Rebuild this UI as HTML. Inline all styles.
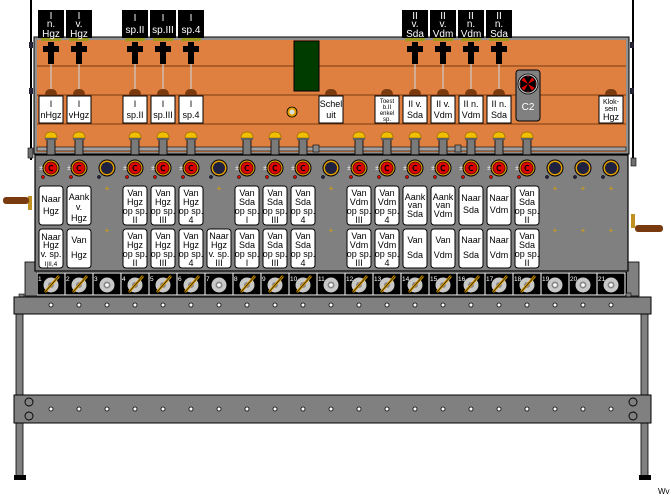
<!DOCTYPE html>
<html><head><meta charset="utf-8"><style>
html,body{margin:0;padding:0;background:#fff;width:671px;height:499px;overflow:hidden}
svg{display:block}
text{font-family:"Liberation Sans","DejaVu Sans",sans-serif}
.c{font-size:9px;text-anchor:middle;fill:#000}
.t{font-size:10px;text-anchor:middle;fill:#fff}
.n{font-size:6.5px;fill:#fff}
</style></head><body>
<svg width="671" height="499" viewBox="0 0 671 499" xmlns="http://www.w3.org/2000/svg">
<defs>
<g id="lamp"><rect x="-4" y="136" width="8" height="20" fill="#7a7a7a" stroke="#000" stroke-width="0.8"/><path d="M-6,138 Q-6,132 0,132 Q6,132 6,138 Z" fill="#f0c000" stroke="#a07000" stroke-width="0.8"/><rect x="-6" y="138" width="12" height="2" fill="#606060"/></g>
<g id="red"><circle cx="0" cy="168" r="8" fill="#e0a000" stroke="#000" stroke-width="1"/><circle cx="0" cy="168" r="6" fill="#e00000" stroke="#400" stroke-width="0.8"/><path d="M2,166 A2.5,2.5 0 1 0 2,170" fill="none" stroke="#000" stroke-width="1.2"/><circle cx="-8" cy="177" r="1.6" fill="#e00000" stroke="#000" stroke-width="0.5"/><text x="-10" y="170" style="font-size:7px;fill:#fff" text-anchor="middle">±</text></g>
<g id="dark"><circle cx="0" cy="168" r="8" fill="#e0a000" stroke="#000" stroke-width="1"/><circle cx="0" cy="168" r="6" fill="#202040"/><circle cx="-8" cy="177" r="1.6" fill="#202040" stroke="#000" stroke-width="0.5"/></g>
<g id="lv"><rect x="-14" y="273" width="28" height="22" fill="#000" stroke="#fff" stroke-width="1"/><circle cx="0" cy="285" r="7.5" fill="#c8c8c8"/><circle cx="0" cy="285" r="3" fill="#888"/><line x1="-6" y1="292" x2="8" y2="276" stroke="#e0a000" stroke-width="2.5"/><line x1="-6" y1="292" x2="8" y2="276" stroke="#000" stroke-width="0.6"/></g>
<g id="lo"><rect x="-14" y="273" width="28" height="22" fill="#000" stroke="#fff" stroke-width="1"/><circle cx="0" cy="285" r="7.5" fill="#c8c8c8"/><circle cx="0" cy="285" r="3.5" fill="#888"/><circle cx="0" cy="285" r="1.8" fill="#fff"/></g>
<g id="tag"><rect x="-13" y="10" width="26" height="28" fill="#000"/><rect x="-10" y="38" width="20" height="3" fill="#9a9a20"/><path d="M-3,42 h6 v4 h5 v6 h-5 v12 h-6 v-12 h-5 v-6 h5z" fill="#000"/><line x1="0" y1="64" x2="0" y2="89" stroke="#ccc" stroke-width="1.2"/><path d="M-6,95 Q-6,89 0,89 Q6,89 6,95 Z" fill="#7a3a10"/></g>
<g id="knob"><path d="M-6,95 Q-6,89 0,89 Q6,89 6,95 Z" fill="#7a3a10"/></g>
<g id="lab"><rect x="-12" y="96" width="24" height="27" fill="#fff" stroke="#000" stroke-width="1"/></g>
<g id="plus"><text x="0" y="0" style="font-size:8px;fill:#e0a000" text-anchor="middle">+</text></g>
</defs>

<rect x="30" y="0" width="2" height="160" fill="#000"/>
<rect x="632" y="0" width="2" height="160" fill="#000"/>
<rect x="29" y="42" width="4" height="6" fill="#223"/><rect x="29" y="88" width="4" height="6" fill="#223"/>
<rect x="630" y="42" width="4" height="6" fill="#223"/><rect x="630" y="88" width="4" height="6" fill="#223"/>

<rect x="34" y="37" width="595" height="117" fill="#909090" stroke="#000" stroke-width="1"/>
<rect x="37" y="40" width="589" height="112" fill="#e08040"/>
<line x1="37" y1="66" x2="626" y2="66" stroke="#7a3a10" stroke-width="1"/>
<line x1="37" y1="95" x2="626" y2="95" stroke="#7a3a10" stroke-width="1"/>
<line x1="37" y1="124" x2="626" y2="124" stroke="#7a3a10" stroke-width="1"/>
<rect x="294" y="41" width="25" height="50" fill="#003c00" stroke="#000"/>
<circle cx="292" cy="112" r="5" fill="#e0a000" stroke="#000" stroke-width="0.8"/><circle cx="292" cy="112" r="2.5" fill="#ddd"/>

<use href="#tag" x="51"/><use href="#tag" x="79"/><use href="#tag" x="135"/><use href="#tag" x="163"/><use href="#tag" x="191"/>
<use href="#tag" x="415"/><use href="#tag" x="443"/><use href="#tag" x="471"/><use href="#tag" x="499"/>
<g class="t">
<text x="51" y="19">I</text><text x="51" y="27">n.</text><text x="51" y="37">Hgz</text>
<text x="79" y="19">I</text><text x="79" y="27">v.</text><text x="79" y="37">Hgz</text>
<text x="135" y="21">I</text><text x="135" y="33">sp.II</text>
<text x="163" y="21">I</text><text x="163" y="33">sp.III</text>
<text x="191" y="21">I</text><text x="191" y="33">sp.4</text>
<text x="415" y="19">II</text><text x="415" y="27">v.</text><text x="415" y="37">Sda</text>
<text x="443" y="19">II</text><text x="443" y="27">v.</text><text x="443" y="37">Vdm</text>
<text x="471" y="19">II</text><text x="471" y="27">n.</text><text x="471" y="37">Vdm</text>
<text x="499" y="19">II</text><text x="499" y="27">n.</text><text x="499" y="37">Sda</text>
</g>
<use href="#knob" x="331"/><use href="#knob" x="387"/><use href="#knob" x="611"/>

<use href="#lab" x="51"/><use href="#lab" x="79"/><use href="#lab" x="135"/><use href="#lab" x="163"/><use href="#lab" x="191"/>
<use href="#lab" x="331"/><use href="#lab" x="387"/><use href="#lab" x="415"/><use href="#lab" x="443"/><use href="#lab" x="471"/><use href="#lab" x="499"/><use href="#lab" x="611"/>
<g class="c">
<text x="51" y="107">I</text><text x="51" y="118">nHgz</text>
<text x="79" y="107">I</text><text x="79" y="118">vHgz</text>
<text x="135" y="107">I</text><text x="135" y="118">sp.II</text>
<text x="163" y="107">I</text><text x="163" y="118">sp.III</text>
<text x="191" y="107">I</text><text x="191" y="118">sp.4</text>
<text x="331" y="107">Schel</text><text x="331" y="118">uit</text>
<text x="387" y="103" style="font-size:6px">Toest</text><text x="387" y="109" style="font-size:6px">b.II</text><text x="387" y="115" style="font-size:6px">enkel</text><text x="387" y="121" style="font-size:6px">sp.</text>
<text x="415" y="107">II v.</text><text x="415" y="118">Sda</text>
<text x="443" y="107">II v.</text><text x="443" y="118">Vdm</text>
<text x="471" y="107">II n.</text><text x="471" y="118">Vdm</text>
<text x="499" y="107">II n.</text><text x="499" y="118">Sda</text>
<text x="611" y="104" style="font-size:7px">Klok-</text><text x="611" y="111" style="font-size:7px">sein</text><text x="611" y="120">Hgz</text>
</g>
<rect x="516" y="70" width="24" height="51" rx="3" fill="#808080" stroke="#000"/>
<circle cx="528" cy="84" r="10" fill="#ccc" stroke="#000" stroke-width="0.8"/><circle cx="528" cy="84" r="8" fill="#e00000" stroke="#000"/>
<path d="M528,84 L524,77 L532,77 Z M528,84 L524,91 L532,91 Z M528,84 L521,80 L521,88 Z M528,84 L535,80 L535,88 Z" fill="#000"/>
<text x="528" y="110" class="t">C2</text>

<rect x="37" y="147" width="589" height="4" fill="#a0a0a0" stroke="#000" stroke-width="0.6"/>
<rect x="313" y="145" width="6" height="7" fill="#888" stroke="#000" stroke-width="0.6"/>
<rect x="455" y="145" width="6" height="7" fill="#888" stroke="#000" stroke-width="0.6"/>
<use href="#lamp" x="51"/><use href="#lamp" x="79"/><use href="#lamp" x="135"/><use href="#lamp" x="163"/><use href="#lamp" x="191"/><use href="#lamp" x="247"/><use href="#lamp" x="275"/><use href="#lamp" x="303"/>
<use href="#lamp" x="359"/><use href="#lamp" x="387"/><use href="#lamp" x="415"/><use href="#lamp" x="443"/><use href="#lamp" x="471"/><use href="#lamp" x="499"/><use href="#lamp" x="527"/>

<rect x="25" y="262" width="614" height="34" fill="#808080" stroke="#000" stroke-width="0.8"/>
<rect x="35" y="155" width="593" height="116" fill="#808080" stroke="#000" stroke-width="1.2"/>
<rect x="28" y="148" width="5" height="10" fill="#707070" stroke="#000" stroke-width="0.6"/>
<rect x="631" y="158" width="5" height="8" fill="#707070" stroke="#000" stroke-width="0.6"/>
<rect x="28" y="196" width="4" height="14" fill="#c09020"/><rect x="3" y="197" width="26" height="7" rx="3" fill="#7a3a10"/>
<rect x="631" y="214" width="4" height="14" fill="#c09020"/><rect x="635" y="225" width="28" height="7" rx="3" fill="#7a3a10"/>

<use href="#red" x="51"/><use href="#red" x="79"/><use href="#dark" x="107"/><use href="#red" x="135"/><use href="#red" x="163"/><use href="#red" x="191"/><use href="#dark" x="219"/><use href="#red" x="247"/><use href="#red" x="275"/><use href="#red" x="303"/><use href="#dark" x="331"/><use href="#red" x="359"/><use href="#red" x="387"/><use href="#red" x="415"/><use href="#red" x="443"/><use href="#red" x="471"/><use href="#red" x="499"/><use href="#red" x="527"/><use href="#dark" x="555"/><use href="#dark" x="583"/><use href="#dark" x="611"/>

<use href="#plus" x="107" y="191"/><use href="#plus" x="107" y="233"/><use href="#plus" x="219" y="191"/><use href="#plus" x="331" y="191"/><use href="#plus" x="331" y="233"/>
<use href="#plus" x="555" y="191"/><use href="#plus" x="555" y="233"/><use href="#plus" x="583" y="191"/><use href="#plus" x="583" y="233"/><use href="#plus" x="611" y="191"/><use href="#plus" x="611" y="233"/>

<g fill="#fff" stroke="#000" stroke-width="1">
<rect x="39" y="186" width="24" height="39" rx="3"/><rect x="67" y="186" width="24" height="39" rx="3"/>
<rect x="123" y="186" width="24" height="39" rx="3"/><rect x="151" y="186" width="24" height="39" rx="3"/><rect x="179" y="186" width="24" height="39" rx="3"/>
<rect x="235" y="186" width="24" height="39" rx="3"/><rect x="263" y="186" width="24" height="39" rx="3"/><rect x="291" y="186" width="24" height="39" rx="3"/>
<rect x="347" y="186" width="24" height="39" rx="3"/><rect x="375" y="186" width="24" height="39" rx="3"/><rect x="403" y="186" width="24" height="39" rx="3"/><rect x="431" y="186" width="24" height="39" rx="3"/><rect x="459" y="186" width="24" height="39" rx="3"/><rect x="487" y="186" width="24" height="39" rx="3"/><rect x="515" y="186" width="24" height="39" rx="3"/>
<rect x="39" y="229" width="24" height="39" rx="3"/><rect x="67" y="229" width="24" height="39" rx="3"/>
<rect x="123" y="229" width="24" height="39" rx="3"/><rect x="151" y="229" width="24" height="39" rx="3"/><rect x="179" y="229" width="24" height="39" rx="3"/><rect x="207" y="229" width="24" height="39" rx="3"/>
<rect x="235" y="229" width="24" height="39" rx="3"/><rect x="263" y="229" width="24" height="39" rx="3"/><rect x="291" y="229" width="24" height="39" rx="3"/>
<rect x="347" y="229" width="24" height="39" rx="3"/><rect x="375" y="229" width="24" height="39" rx="3"/><rect x="403" y="229" width="24" height="39" rx="3"/><rect x="431" y="229" width="24" height="39" rx="3"/><rect x="459" y="229" width="24" height="39" rx="3"/><rect x="487" y="229" width="24" height="39" rx="3"/><rect x="515" y="229" width="24" height="39" rx="3"/>
</g>
<g class="c">
<text x="51" y="202">Naar</text><text x="51" y="214">Hgz</text>
<text x="79" y="200">Aank</text><text x="79" y="210">v.</text><text x="79" y="221">Hgz</text>
<text x="135" y="196">Van</text><text x="135" y="205">Hgz</text><text x="135" y="214">op sp.</text><text x="135" y="223">II</text>
<text x="163" y="196">Van</text><text x="163" y="205">Hgz</text><text x="163" y="214">op sp.</text><text x="163" y="223">III</text>
<text x="191" y="196">Van</text><text x="191" y="205">Hgz</text><text x="191" y="214">op sp.</text><text x="191" y="223">4</text>
<text x="247" y="196">Van</text><text x="247" y="205">Sda</text><text x="247" y="214">op sp.</text><text x="247" y="223">I</text>
<text x="275" y="196">Van</text><text x="275" y="205">Sda</text><text x="275" y="214">op sp.</text><text x="275" y="223">III</text>
<text x="303" y="196">Van</text><text x="303" y="205">Sda</text><text x="303" y="214">op sp.</text><text x="303" y="223">4</text>
<text x="359" y="196">Van</text><text x="359" y="205">Vdm</text><text x="359" y="214">op sp.</text><text x="359" y="223">III</text>
<text x="387" y="196">Van</text><text x="387" y="205">Vdm</text><text x="387" y="214">op sp.</text><text x="387" y="223">4</text>
<text x="415" y="200">Aank</text><text x="415" y="208">van</text><text x="415" y="217">Sda</text>
<text x="443" y="200">Aank</text><text x="443" y="208">van</text><text x="443" y="217">Vdm</text>
<text x="471" y="201">Naar</text><text x="471" y="213">Sda</text>
<text x="499" y="201">Naar</text><text x="499" y="213">Vdm</text>
<text x="527" y="196">Van</text><text x="527" y="205">Sda</text><text x="527" y="214">op sp.</text><text x="527" y="223">II</text>

<text x="51" y="240">Naar</text><text x="51" y="248">Hgz</text><text x="51" y="257">v. sp.</text><text x="51" y="266" style="font-size:6.5px">I|II,4</text>
<text x="79" y="243">Van</text><text x="79" y="258">Hgz</text>
<text x="135" y="239">Van</text><text x="135" y="248">Hgz</text><text x="135" y="257">op sp.</text><text x="135" y="266">II</text>
<text x="163" y="239">Van</text><text x="163" y="248">Hgz</text><text x="163" y="257">op sp.</text><text x="163" y="266">III</text>
<text x="191" y="239">Van</text><text x="191" y="248">Hgz</text><text x="191" y="257">op sp.</text><text x="191" y="266">4</text>
<text x="219" y="239">Naar</text><text x="219" y="248">Hgz</text><text x="219" y="257">v. sp.</text><text x="219" y="266">III</text>
<text x="247" y="239">Van</text><text x="247" y="248">Sda</text><text x="247" y="257">op sp.</text><text x="247" y="266">I</text>
<text x="275" y="239">Van</text><text x="275" y="248">Sda</text><text x="275" y="257">op sp.</text><text x="275" y="266">III</text>
<text x="303" y="239">Van</text><text x="303" y="248">Sda</text><text x="303" y="257">op sp.</text><text x="303" y="266">4</text>
<text x="359" y="239">Van</text><text x="359" y="248">Vdm</text><text x="359" y="257">op sp.</text><text x="359" y="266">III</text>
<text x="387" y="239">Van</text><text x="387" y="248">Vdm</text><text x="387" y="257">op sp.</text><text x="387" y="266">4</text>
<text x="415" y="243">Van</text><text x="415" y="258">Sda</text>
<text x="443" y="243">Van</text><text x="443" y="258">Vdm</text>
<text x="471" y="243">Naar</text><text x="471" y="258">Sda</text>
<text x="499" y="243">Naar</text><text x="499" y="258">Vdm</text>
<text x="527" y="239">Van</text><text x="527" y="248">Sda</text><text x="527" y="257">op sp.</text><text x="527" y="266">II</text>
</g>

<rect x="36" y="272" width="591" height="24" fill="#000"/>
<use href="#lv" x="51"/><use href="#lv" x="79"/><use href="#lo" x="107"/><use href="#lv" x="135"/><use href="#lv" x="163"/><use href="#lv" x="191"/><use href="#lo" x="219"/><use href="#lv" x="247"/><use href="#lv" x="275"/><use href="#lv" x="303"/><use href="#lo" x="331"/><use href="#lv" x="359"/><use href="#lv" x="387"/><use href="#lv" x="415"/><use href="#lv" x="443"/><use href="#lv" x="471"/><use href="#lv" x="499"/><use href="#lv" x="527"/><use href="#lo" x="555"/><use href="#lo" x="583"/><use href="#lo" x="611"/>
<g class="n">
<text x="38" y="281">1</text><text x="66" y="281">2</text><text x="94" y="281">3</text><text x="122" y="281">4</text><text x="150" y="281">5</text><text x="178" y="281">6</text><text x="206" y="281">7</text><text x="234" y="281">8</text><text x="262" y="281">9</text><text x="290" y="281">10</text><text x="318" y="281">11</text><text x="346" y="281">12</text><text x="374" y="281">13</text><text x="402" y="281">14</text><text x="430" y="281">15</text><text x="458" y="281">16</text><text x="486" y="281">17</text><text x="514" y="281">18</text><text x="542" y="281">19</text><text x="570" y="281">20</text><text x="598" y="281">21</text>
</g>

<rect x="16" y="314" width="7" height="162" fill="#808080" stroke="#000" stroke-width="0.8"/>
<rect x="641" y="314" width="7" height="162" fill="#808080" stroke="#000" stroke-width="0.8"/>
<rect x="14" y="475" width="12" height="5" fill="#000"/><rect x="639" y="475" width="12" height="5" fill="#000"/>
<rect x="19" y="294" width="5" height="4" fill="#808080" stroke="#000" stroke-width="0.6"/>
<rect x="626" y="293" width="5" height="4" fill="#808080" stroke="#000" stroke-width="0.6"/>

<rect x="14" y="297" width="637" height="17" fill="#808080" stroke="#000" stroke-width="1"/>
<rect x="14" y="395" width="637" height="28" fill="#808080" stroke="#000" stroke-width="1"/>
<g fill="#fff" stroke="#000" stroke-width="0.8">
<circle cx="51" cy="305" r="2"/><circle cx="79" cy="305" r="2"/><circle cx="107" cy="305" r="2"/><circle cx="135" cy="305" r="2"/><circle cx="163" cy="305" r="2"/><circle cx="191" cy="305" r="2"/><circle cx="219" cy="305" r="2"/><circle cx="247" cy="305" r="2"/><circle cx="275" cy="305" r="2"/><circle cx="303" cy="305" r="2"/><circle cx="331" cy="305" r="2"/><circle cx="359" cy="305" r="2"/><circle cx="387" cy="305" r="2"/><circle cx="415" cy="305" r="2"/><circle cx="443" cy="305" r="2"/><circle cx="471" cy="305" r="2"/><circle cx="499" cy="305" r="2"/><circle cx="527" cy="305" r="2"/><circle cx="555" cy="305" r="2"/><circle cx="583" cy="305" r="2"/><circle cx="611" cy="305" r="2"/>
<circle cx="51" cy="409" r="2"/><circle cx="79" cy="409" r="2"/><circle cx="107" cy="409" r="2"/><circle cx="135" cy="409" r="2"/><circle cx="163" cy="409" r="2"/><circle cx="191" cy="409" r="2"/><circle cx="219" cy="409" r="2"/><circle cx="247" cy="409" r="2"/><circle cx="275" cy="409" r="2"/><circle cx="303" cy="409" r="2"/><circle cx="331" cy="409" r="2"/><circle cx="359" cy="409" r="2"/><circle cx="387" cy="409" r="2"/><circle cx="415" cy="409" r="2"/><circle cx="443" cy="409" r="2"/><circle cx="471" cy="409" r="2"/><circle cx="499" cy="409" r="2"/><circle cx="527" cy="409" r="2"/><circle cx="555" cy="409" r="2"/><circle cx="583" cy="409" r="2"/><circle cx="611" cy="409" r="2"/>
</g>
<g fill="none" stroke="#000" stroke-width="0.9">
<ellipse cx="29" cy="402" rx="4" ry="4"/><ellipse cx="29" cy="416" rx="4" ry="4"/>
<ellipse cx="633" cy="402" rx="4" ry="4"/><ellipse cx="633" cy="416" rx="4" ry="4"/>
</g>
<text x="658" y="494" style="font-size:8px;fill:#000">Wv</text>
</svg>
</body></html>
